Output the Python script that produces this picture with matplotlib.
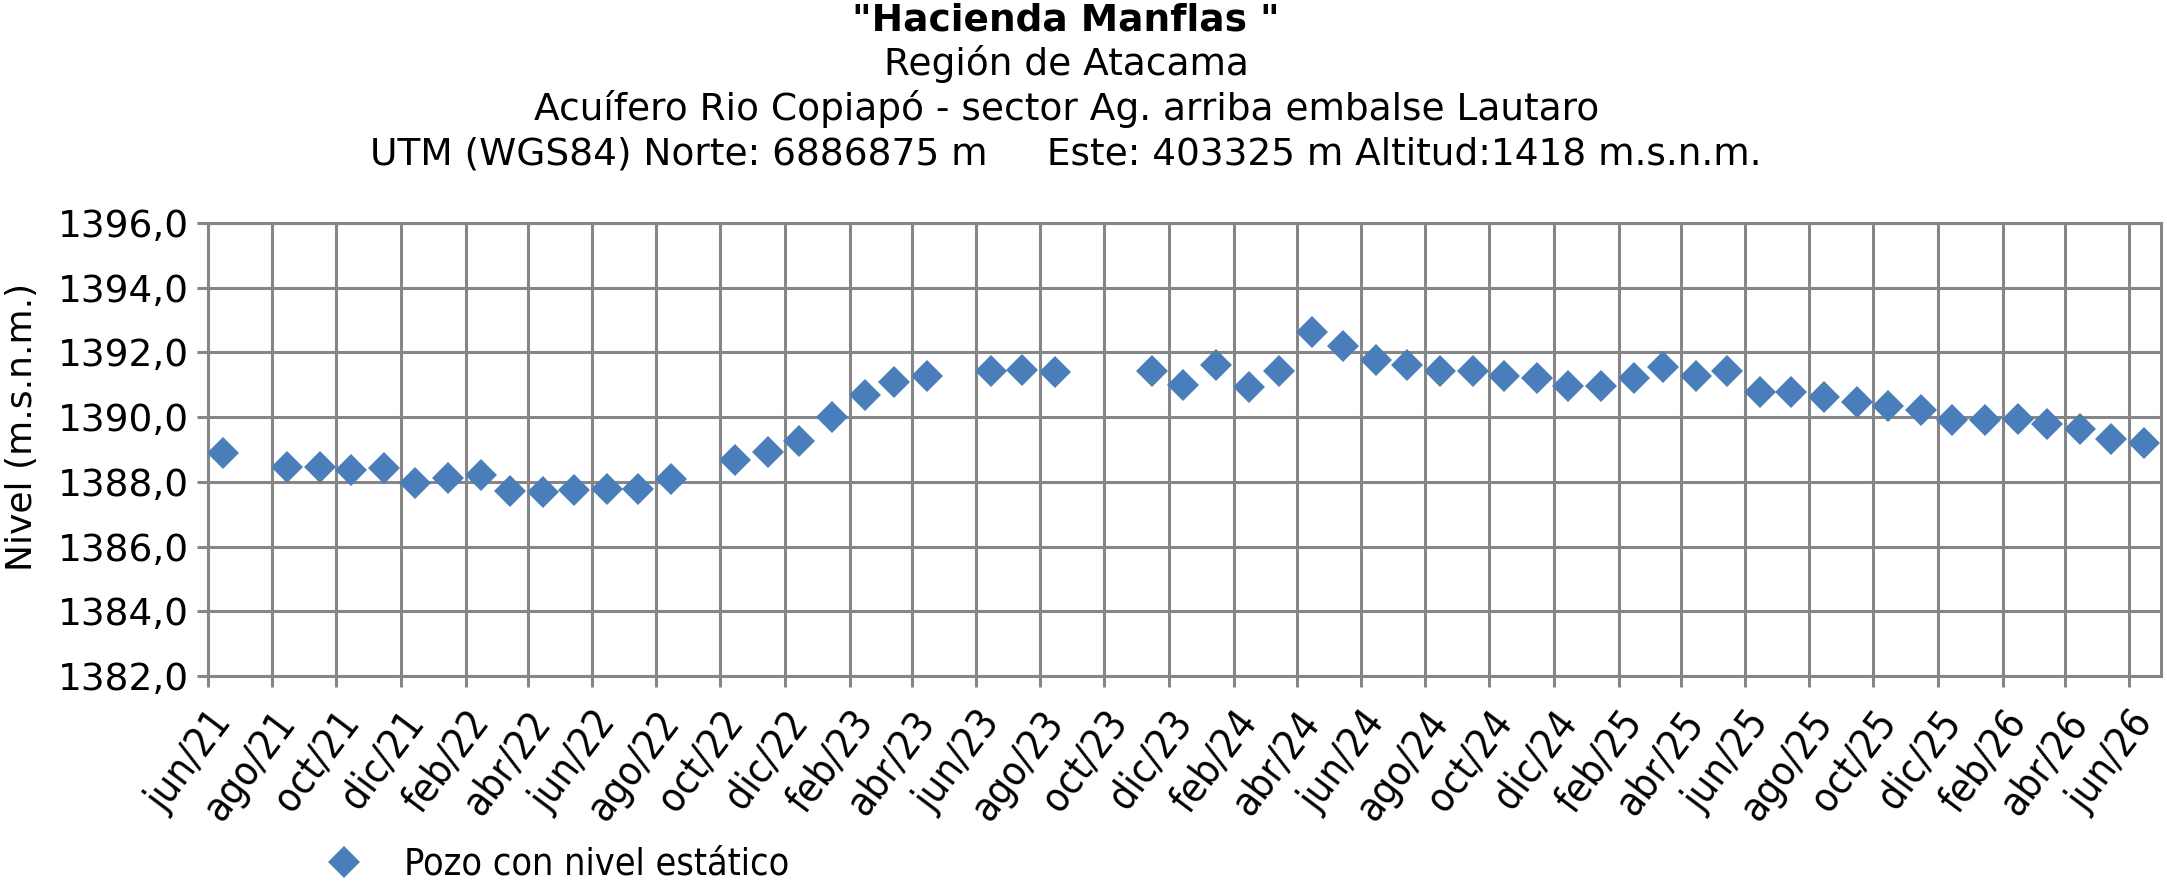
import datetime as dt
import matplotlib
matplotlib.use('Agg')
import matplotlib.pyplot as plt
import matplotlib.dates as mdates
import matplotlib.ticker as ticker
from matplotlib.lines import Line2D

# meses con medicion (anio, mes)
meses_medicion = [(2021, 6)] + [(2021, m) for m in range(8, 13)] + \
                 [(2022, m) for m in range(1, 9)] + [(2022, m) for m in range(10, 13)] + \
                 [(2023, m) for m in range(1, 5)] + [(2023, m) for m in range(6, 9)] + \
                 [(2023, 11), (2023, 12)] + [(2024, m) for m in range(1, 13)] + \
                 [(2025, m) for m in range(1, 13)] + [(2026, m) for m in range(1, 7)]

nivel = [1388.88, 1388.46, 1388.46, 1388.38, 1388.42, 1387.96, 1388.11, 1388.20,
         1387.72, 1387.69, 1387.75, 1387.79, 1387.79, 1388.08,
         1388.69, 1388.92, 1389.26, 1390.00, 1390.67, 1391.10, 1391.27,
         1391.43, 1391.45, 1391.39,
         1391.43, 1391.00,
         1391.61, 1390.94, 1391.44, 1392.62, 1392.19, 1391.76, 1391.61, 1391.43,
         1391.42, 1391.26, 1391.22, 1390.97,
         1390.97, 1391.20, 1391.56, 1391.28, 1391.43, 1390.79, 1390.79, 1390.63,
         1390.48, 1390.35, 1390.21, 1389.90,
         1389.90, 1389.94, 1389.80, 1389.62, 1389.31, 1389.20]

meses_es = ['ene', 'feb', 'mar', 'abr', 'may', 'jun', 'jul', 'ago', 'sep', 'oct', 'nov', 'dic']

titulo = '"Hacienda Manflas "'
subtitulos = ['Región de Atacama',
              'Acuífero Rio Copiapó - sector Ag. arriba embalse Lautaro',
              'UTM (WGS84) Norte: 6886875 m     Este: 403325 m Altitud:1418 m.s.n.m.']

fechas = [dt.date(a, m, 15) for a, m in meses_medicion]

plt.rcParams['font.family'] = 'DejaVu Sans'

GRIS = '#868686'
AZUL = '#4a7ebb'
FS = 27

fig = plt.figure(figsize=(21.67, 8.89), dpi=100)
ax = fig.add_axes([0.096, 0.2396, 0.9011, 0.5096])

ax.plot(fechas, nivel, linestyle='none', marker='D', markersize=16,
        color=AZUL, markeredgewidth=0, zorder=3)

ax.set_ylim(1382, 1396)
ax.set_xlim(dt.date(2021, 6, 1), dt.date(2026, 7, 1))
ax.yaxis.set_major_locator(ticker.MultipleLocator(2))
ax.yaxis.set_major_formatter(ticker.FuncFormatter(lambda v, p: f'{v:.1f}'.replace('.', ',')))

ax.xaxis.set_major_locator(mdates.MonthLocator(bymonth=[2, 4, 6, 8, 10, 12]))
def fmt_fecha(x, pos):
    d = mdates.num2date(x)
    return f'{meses_es[d.month - 1]}/{d:%y}'
ax.xaxis.set_major_formatter(ticker.FuncFormatter(fmt_fecha))

ax.grid(True, color=GRIS, linewidth=2.2)
for s in ax.spines.values():
    s.set_color(GRIS)
    s.set_linewidth(2.2)
ax.tick_params(axis='both', direction='out', length=8, width=2.2, color=GRIS,
               labelsize=FS, pad=6)
ax.tick_params(axis='x', labelsize=29, pad=12)
plt.setp(ax.get_xticklabels(), rotation=53, ha='right', rotation_mode='anchor',
         fontstretch='condensed')

fig.text(0.01, 0.52, 'Nivel (m.s.n.m.)', rotation=90, va='center', ha='center', fontsize=26)

fig.text(0.492, 0.977, titulo, ha='center', va='center', fontsize=FS, fontweight='bold')
for i, t in enumerate(subtitulos):
    fig.text(0.492, 0.9285 - i * 0.0513, t, ha='center', va='center', fontsize=FS)

h = Line2D([], [], linestyle='none', marker='D', markersize=16, color=AZUL, markeredgewidth=0)
fig.legend([h], ['Pozo con nivel estático'], loc='center left', bbox_to_anchor=(0.126, 0.027),
           frameon=False, prop={'size': FS, 'stretch': 'condensed'}, handletextpad=0.6)

fig.savefig('out.png', dpi=100)
